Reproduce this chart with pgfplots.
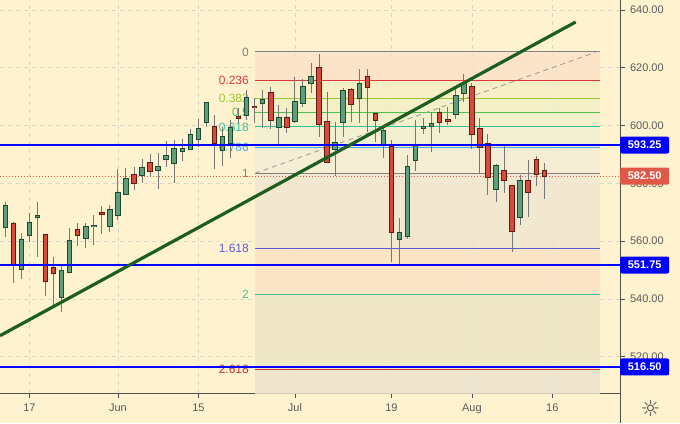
\documentclass[border=0pt]{standalone}
\usepackage{pgfplots}
\pgfplotsset{compat=1.18}
\usepackage{pgfplotstable}
\usepackage{fontspec}
\setmainfont{Liberation Sans}
\newfontfamily\dejavu{DejaVu Sans}

\definecolor{bgc}{RGB}{255,243,207}
\definecolor{gridc}{RGB}{214,214,204}
\definecolor{gfill}{RGB}{94,158,122}
\definecolor{gbord}{RGB}{30,72,48}
\definecolor{rfill}{RGB}{216,74,58}
\definecolor{rbord}{RGB}{92,26,16}
\definecolor{wick}{RGB}{118,118,118}
\definecolor{trend}{RGB}{27,94,32}
\definecolor{lvl0}{RGB}{128,128,128}
\definecolor{lvl236}{RGB}{224,56,56}
\definecolor{lvl382}{RGB}{154,200,50}
\definecolor{lvl5}{RGB}{76,192,76}
\definecolor{lvl618}{RGB}{46,196,160}
\definecolor{lvl786}{RGB}{74,168,232}
\definecolor{lvl1618}{RGB}{91,91,214}
\definecolor{lvl2}{RGB}{60,200,150}
\definecolor{lvl2618}{RGB}{208,48,48}
\definecolor{priceblue}{RGB}{0,0,255}
\definecolor{lastred}{RGB}{224,88,70}
\definecolor{axc}{RGB}{80,80,80}
\definecolor{txt}{RGB}{90,90,90}
\definecolor{zA}{RGB}{251,226,198}
\definecolor{zB}{RGB}{247,239,198}
\definecolor{zC}{RGB}{242,240,198}
\definecolor{zD}{RGB}{243,240,203}
\definecolor{zE}{RGB}{240,240,210}
\definecolor{zF}{RGB}{244,237,214}
\definecolor{zG}{RGB}{240,229,208}
\definecolor{zH}{RGB}{252,226,198}
\definecolor{zI}{RGB}{238,230,198}
\definecolor{zJ}{RGB}{237,227,207}

\pgfplotstableread{
x o h l c
0 564.9 573.7 561.6 572.2
2 550.3 562.7 546.8 560.3
3 562.0 569.7 559.8 566.4
4 568.4 573.7 554.4 568.6
7 540.6 552.1 535.6 549.6
8 549.4 564.7 549.2 560.0
10 561.2 566.4 557.8 564.9
11 565.2 569.0 558.7 565.4
13 565.3 572.5 563.3 570.8
14 569.2 584.9 567.3 576.6
15 576.2 585.4 575.9 581.4
17 582.9 588.5 580.2 585.2
19 584.5 590.4 578.2 585.6
20 588.5 594.7 585.8 589.5
21 587.2 595.0 580.2 591.9
22 591.1 595.5 587.9 592.0
23 591.8 598.8 591.6 596.6
24 595.5 602.2 592.5 598.7
25 601.2 608.3 599.6 607.9
27 591.6 599.6 586.0 596.2
28 593.9 601.9 588.9 599.1
30 603.8 612.3 601.9 609.4
32 607.7 612.3 599.1 608.9
34 599.6 607.1 593.3 602.6
36 601.6 616.7 600.8 608.2
37 607.7 616.0 606.5 613.5
38 614.6 621.6 611.2 616.9
41 591.8 601.4 582.7 593.9
42 601.2 612.9 596.2 612.1
44 609.4 619.5 600.8 614.3
47 593.6 600.2 588.7 598.1
49 560.7 567.9 551.8 562.7
50 561.8 589.8 560.7 585.8
51 588.1 601.9 584.4 592.9
52 599.2 602.5 597.1 599.5
53 599.8 604.8 590.9 600.6
56 603.9 613.1 602.2 610.2
57 611.4 617.9 608.3 614.3
61 578.0 586.6 573.5 586.1
64 568.5 582.9 565.6 580.7
}\greentab

\pgfplotstableread{
x o h l c
1 566.1 566.6 545.4 552.2
5 562.0 562.3 541.1 546.2
6 550.6 554.6 537.7 549.1
9 563.9 566.2 558.4 562.0
12 569.6 572.2 562.4 569.4
16 582.9 585.6 577.7 580.0
18 587.0 590.1 582.1 584.4
26 599.5 603.7 585.1 594.1
29 603.0 606.0 600.8 602.8
31 606.6 609.4 600.8 606.3
33 611.4 613.5 598.7 601.9
35 602.6 606.0 597.3 599.4
39 619.8 624.7 596.2 600.6
40 601.4 611.7 587.0 587.5
43 612.3 612.9 601.4 607.4
45 616.9 619.5 597.9 613.5
46 604.0 604.4 594.4 601.9
48 592.5 595.0 552.9 563.1
54 604.5 606.2 597.3 601.2
55 601.9 606.3 600.1 601.7
58 613.5 614.6 591.8 597.0
59 598.7 602.7 583.5 592.6
60 593.6 597.1 576.0 582.2
62 584.3 593.2 576.6 581.2
63 579.0 579.1 556.2 563.4
65 580.7 588.1 568.5 577.1
66 588.0 589.5 579.2 583.4
67 584.4 587.0 574.5 582.5
}\redtab

\pgfplotsset{
  ebar/.style n args={2}{draw=none, mark=none, forget plot,
    error bars/.cd, y dir=minus, y explicit, error mark=none,
    error bar style={draw=#1, line width=#2, line cap=butt, solid}},
  fibzone/.style={draw=none, fill=#1, fill opacity=0.85, forget plot},
  fibline/.style={draw=#1, line width=1pt, forget plot, mark=none},
}

\newcommand\fibfont{\fontsize{12}{14}\selectfont}

\begin{document}
\begin{tikzpicture}
\fill[bgc] (0,0) rectangle (680pt,423pt);
\begin{axis}[
  at={(0pt,29.7pt)}, anchor=south west,
  scale only axis, width=620pt, height=393.3pt,
  xmin=-0.66, xmax=76.41, ymin=507.37, ymax=643.46,
  axis x line*=bottom, axis y line*=right,
  axis line style={draw=axc, line width=0.8pt},
  every tick/.style={draw=axc, line width=0.8pt},
  tick align=outside, major tick length=5pt,
  xtick={3,14,24,36,48,58,68},
  xticklabels={17,Jun,15,Jul,19,Aug,16},
  ytick={520,540,...,640},
  yticklabels={520.00,540.00,560.00,580.00,600.00,620.00,640.00},
  grid=major,
  major grid style={draw=gridc, dash pattern=on 4pt off 4pt, line width=0.7pt},
  ticklabel style={font=\fontsize{11}{13}\selectfont, text=txt},
  yticklabel style={anchor=west, xshift=1.5pt},
  xticklabel style={anchor=north, yshift=-2pt},
  clip=true,
]
% Fibonacci zones
\addplot[fibzone=zA] coordinates {(31.04,625.5)(73.9,625.5)(73.9,615.59)(31.04,615.59)} -- cycle;
\addplot[fibzone=zB] coordinates {(31.04,615.59)(73.9,615.59)(73.9,609.46)(31.04,609.46)} -- cycle;
\addplot[fibzone=zC] coordinates {(31.04,609.46)(73.9,609.46)(73.9,604.5)(31.04,604.5)} -- cycle;
\addplot[fibzone=zD] coordinates {(31.04,604.5)(73.9,604.5)(73.9,599.54)(31.04,599.54)} -- cycle;
\addplot[fibzone=zE] coordinates {(31.04,599.54)(73.9,599.54)(73.9,592.49)(31.04,592.49)} -- cycle;
\addplot[fibzone=zF] coordinates {(31.04,592.49)(73.9,592.49)(73.9,583.5)(31.04,583.5)} -- cycle;
\addplot[fibzone=zG] coordinates {(31.04,583.5)(73.9,583.5)(73.9,557.54)(31.04,557.54)} -- cycle;
\addplot[fibzone=zH] coordinates {(31.04,557.54)(73.9,557.54)(73.9,541.5)(31.04,541.5)} -- cycle;
\addplot[fibzone=zI] coordinates {(31.04,541.5)(73.9,541.5)(73.9,515.54)(31.04,515.54)} -- cycle;
\addplot[fibzone=zJ] coordinates {(31.04,515.54)(73.9,515.54)(73.9,500)(31.04,500)} -- cycle;
% Fibonacci levels
\addplot[fibline=lvl0] coordinates {(31.04,625.5)(73.9,625.5)};
\addplot[fibline=lvl236] coordinates {(31.04,615.59)(73.9,615.59)};
\addplot[fibline=lvl382] coordinates {(31.04,609.46)(73.9,609.46)};
\addplot[fibline=lvl5] coordinates {(31.04,604.5)(73.9,604.5)};
\addplot[fibline=lvl618] coordinates {(31.04,599.54)(73.9,599.54)};
\addplot[fibline=lvl786] coordinates {(31.04,592.49)(73.9,592.49)};
\addplot[fibline=lvl0] coordinates {(31.04,583.5)(73.9,583.5)};
\addplot[fibline=lvl1618] coordinates {(31.04,557.54)(73.9,557.54)};
\addplot[fibline=lvl2] coordinates {(31.04,541.5)(73.9,541.5)};
\addplot[fibline=lvl2618] coordinates {(31.04,515.54)(73.9,515.54)};
% Fibonacci labels
\node[anchor=east, inner sep=0pt, font=\fibfont, text=lvl0] at (axis cs:30.29,625.5) {0};
\node[anchor=east, inner sep=0pt, font=\fibfont, text=lvl236] at (axis cs:30.29,615.59) {0.236};
\node[anchor=east, inner sep=0pt, font=\fibfont, text=lvl382] at (axis cs:30.29,609.46) {0.382};
\node[anchor=east, inner sep=0pt, font=\fibfont, text=lvl5] at (axis cs:30.29,604.5) {0.5};
\node[anchor=east, inner sep=0pt, font=\fibfont, text=lvl618] at (axis cs:30.29,599.54) {0.618};
\node[anchor=east, inner sep=0pt, font=\fibfont, text=lvl786] at (axis cs:30.29,592.49) {0.786};
\node[anchor=east, inner sep=0pt, font=\fibfont, text=lvl0] at (axis cs:30.29,583.5) {1};
\node[anchor=east, inner sep=0pt, font=\fibfont, text=lvl1618] at (axis cs:30.29,557.54) {1.618};
\node[anchor=east, inner sep=0pt, font=\fibfont, text=lvl2] at (axis cs:30.29,541.5) {2};
\node[anchor=east, inner sep=0pt, font=\fibfont, text=lvl2618] at (axis cs:30.29,515.54) {2.618};
% dashed fib trend line
\addplot[draw=lvl0!80, dash pattern=on 5pt off 4pt, line width=0.8pt, forget plot] coordinates {(31.04,583.5)(73.3,625.3)};
% last price dotted line
\addplot[draw=lastred, dash pattern=on 1pt off 2pt, line width=0.9pt, forget plot] coordinates {(-1,582.5)(78,582.5)};
% wicks
\addplot[ebar={wick}{1pt}] table[x=x, y=h, y error expr=\thisrow{h}-\thisrow{l}] {\greentab};
\addplot[ebar={wick}{1pt}] table[x=x, y=h, y error expr=\thisrow{h}-\thisrow{l}] {\redtab};
% bodies
\addplot[ebar={gbord}{5.5pt}] table[x=x, y expr=\thisrow{c}+0.35, y error expr=\thisrow{c}-\thisrow{o}+0.7] {\greentab};
\addplot[ebar={gfill}{3.5pt}] table[x=x, y=c, y error expr=\thisrow{c}-\thisrow{o}] {\greentab};
\addplot[ebar={rbord}{5.5pt}] table[x=x, y expr=\thisrow{o}+0.35, y error expr=\thisrow{o}-\thisrow{c}+0.7] {\redtab};
\addplot[ebar={rfill}{3.5pt}] table[x=x, y=o, y error expr=\thisrow{o}-\thisrow{c}] {\redtab};
% horizontal support/resistance lines
\addplot[draw=priceblue, line width=2.2pt, forget plot] coordinates {(-1,593.25)(78,593.25)};
\addplot[draw=priceblue, line width=2.2pt, forget plot] coordinates {(-1,551.75)(78,551.75)};
\addplot[draw=priceblue, line width=2.2pt, forget plot] coordinates {(-1,516.5)(78,516.5)};
% trend line
\addplot[draw=trend, line width=3.2pt, forget plot] coordinates {(-0.66,527.3)(70.9,635.85)};
\coordinate (p1) at (axis cs:76.41,593.25);
\coordinate (p2) at (axis cs:76.41,551.75);
\coordinate (p3) at (axis cs:76.41,516.5);
\coordinate (p4) at (axis cs:76.41,582.5);
\end{axis}
\draw[axc, line width=0.8pt] (620pt,0pt) -- (620pt,29.7pt);
\tikzset{pbox/.style={fill=#1, text=white, font=\bfseries\fontsize{11}{13}\selectfont, rounded corners=2pt, minimum width=49pt, minimum height=17pt, inner sep=0pt, anchor=west}}
\node[pbox=priceblue] at (p1) {593.25};
\node[pbox=priceblue] at (p2) {551.75};
\node[pbox=priceblue] at (p3) {516.50};
\node[pbox=lastred] at (p4) {582.50};
\node[text=axc, font=\dejavu\fontsize{22}{22}\selectfont, inner sep=0pt] at (650.5pt,15pt) {☼};
\pgfresetboundingbox
\path[use as bounding box] (0,0) rectangle (680pt,423pt);
\end{tikzpicture}
\end{document}
